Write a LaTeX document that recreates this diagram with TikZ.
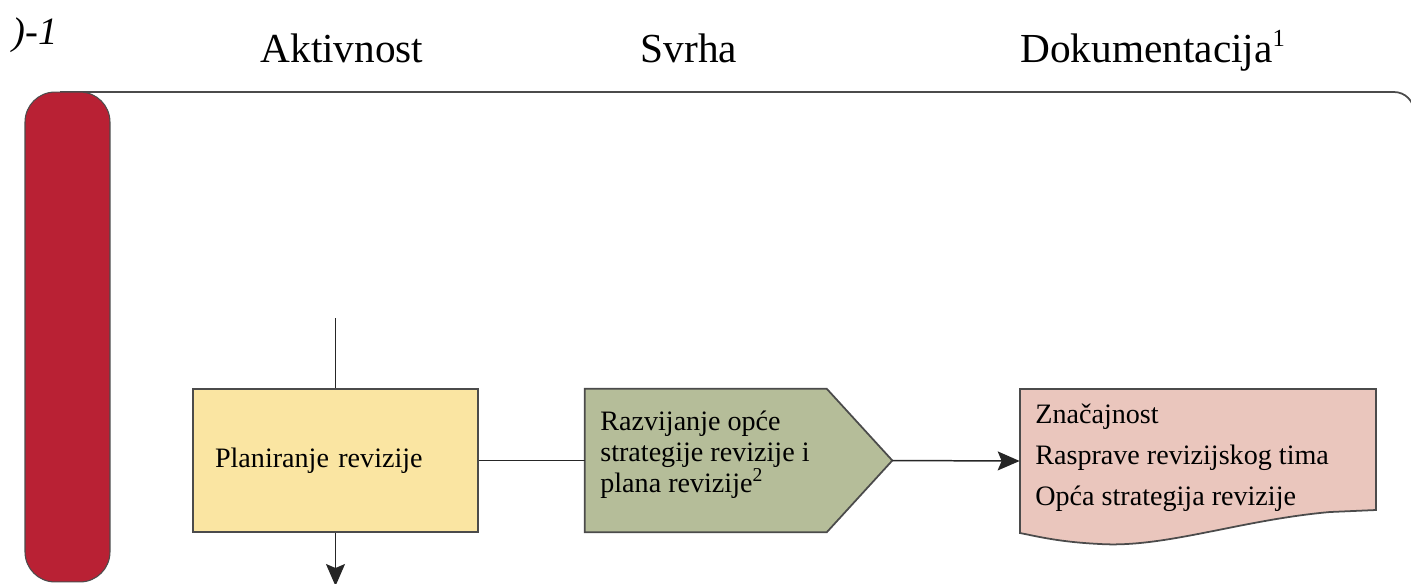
\documentclass[tikz,border=0pt]{standalone}
\usepackage{fontspec}
\setmainfont{Liberation Serif}
\usetikzlibrary{arrows.meta,calc}
\definecolor{barred}{RGB}{185,33,52}
\definecolor{planyellow}{RGB}{250,229,162}
\definecolor{stratgreen}{RGB}{181,189,153}
\definecolor{docpink}{RGB}{234,198,189}
\definecolor{edgegray}{RGB}{75,75,75}
\begin{document}
\begin{tikzpicture}[x=0.02cm,y=-0.02cm,
  header/.style={font=\fontsize{23.5}{26}\selectfont, inner sep=0},
  boxtext/.style={font=\fontsize{16}{17.6}\selectfont},
  shapeedge/.style={draw=edgegray, line width=1pt},
  link/.style={draw=black!85, line width=0.85pt},
  tip/.style={-{Stealth[length=0.44cm,width=0.38cm,inset=0.08cm]}}]
\useasboundingbox (0,0) rectangle (1411,583);
\clip (0,0) rectangle (1411,583);

% column headers
\node[header, anchor=base west, font=\fontsize{22}{24}\selectfont\itshape] (fig) at (12,44) {)-1};
\node[header, anchor=base] (hA) at (342,62) {Aktivnost};
\node[header, anchor=base] (hS) at (689,62) {Svrha};
\node[header, anchor=base west] (hD) at (1020,62) {Dokumentacija\textsuperscript{\fontsize{14}{14}\selectfont 1}};

% outer frame (open at the bottom) and phase bar
\draw[draw=edgegray, line width=1pt, rounded corners=0.4cm] (60,92) -- (1414,92) -- (1414,600);
\node[fill=barred, draw=black!70, line width=0.6pt, rounded corners=0.6cm,
      minimum width=1.7cm, minimum height=9.8cm, inner sep=0] (bar) at (67.5,337) {};

% activity box
\node[shapeedge, fill=planyellow, minimum width=5.7cm, minimum height=2.86cm,
      text width=4.82cm, align=left, inner xsep=0.44cm, boxtext] (plan) at (335.5,460.5) {Planiranje revizije};
\coordinate (incoming) at (335.5,318);
\coordinate (outgoing) at (335.5,586);
\draw[link] (incoming) -- (plan.north);
\draw[link, tip] (plan.south) -- (outgoing);

% purpose shape (pointed)
\node[minimum width=6.14cm, minimum height=2.86cm, inner sep=0] (strat) at (738.5,460.5) {};
\draw[shapeedge, fill=stratgreen] (strat.north west) -- ++(242,0) -- (strat.east)
  -- ($(strat.south west)+(242,0)$) -- (strat.south west) -- cycle;
\node[boxtext, anchor=north west, align=left, inner sep=0] (strattxt) at (600,411)
  {Razvijanje opće\\strategije revizije i\\plana revizije\textsuperscript{2}};

% documentation shape
\node[minimum width=7.12cm, minimum height=2.88cm, inner sep=0] (doc) at (1198,461) {};
\draw[shapeedge, fill=docpink] (1020,389) -- (1376,389) -- (1376,510) -- (1330,512)
  .. controls (1240,520) and (1165,548) .. (1100,544)
  .. controls (1060,542) and (1040,537) .. (1020,533) -- cycle;
\node[boxtext, anchor=north west, align=left, inner sep=0, font=\fontsize{16}{23.3}\selectfont] (doctxt) at (1035,404)
  {Značajnost\\Rasprave revizijskog tima\\Opća strategija revizije};

% flow between columns
\draw[link] (plan.east) -- (strat.west);
\draw[link, tip] (strat.east) -- (doc.west);
\end{tikzpicture}
\end{document}
